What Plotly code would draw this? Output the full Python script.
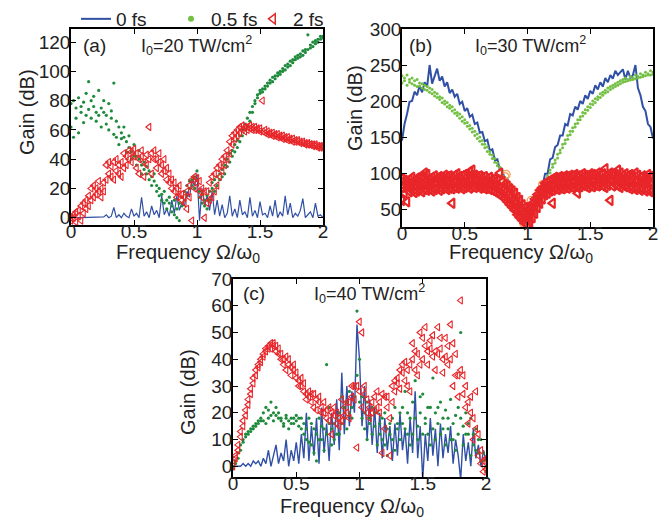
import plotly.graph_objects as go

# ---------------- data ----------------
GRID = [0.00, 0.02, 0.04, 0.06, 0.08, 0.10, 0.12, 0.14, 0.16, 0.18,
        0.20, 0.22, 0.24, 0.26, 0.28, 0.30, 0.32, 0.34, 0.36, 0.38,
        0.40, 0.42, 0.44, 0.46, 0.48, 0.50, 0.52, 0.54, 0.56, 0.58,
        0.60, 0.62, 0.64, 0.66, 0.68, 0.70, 0.72, 0.74, 0.76, 0.78,
        0.80, 0.82, 0.84, 0.86, 0.88, 0.90, 0.92, 0.94, 0.96, 0.98,
        1.00, 1.02, 1.04, 1.06, 1.08, 1.10, 1.12, 1.14, 1.16, 1.18,
        1.20, 1.22, 1.24, 1.26, 1.28, 1.30, 1.32, 1.34, 1.36, 1.38,
        1.40, 1.42, 1.44, 1.46, 1.48, 1.50, 1.52, 1.54, 1.56, 1.58,
        1.60, 1.62, 1.64, 1.66, 1.68, 1.70, 1.72, 1.74, 1.76, 1.78,
        1.80, 1.82, 1.84, 1.86, 1.88, 1.90, 1.92, 1.94, 1.96, 1.98,
        2.00]

# panel (a)  I0 = 20 TW/cm2
blue_a = [1, 0.5, 0, 0, 0, 0, 0, 0, 0, 0,
          0, 0, 0, 0.5, 2, 0, 1, 7, 0, 2,
          0, 3, 1, 0, 6, 1, 3, 0, 14, 1,
          4, 0, 8, 2, 5, 0, 15, 2, 6, 1,
          12, 3, 15, 5, 10, 8, 18, 14, 25, 22,
          30, -2, 20, 8, 15, 5, 18, 2, 12, 1,
          9, 0, 3, 15, 1, 6, 0, 12, 2, 4,
          0, 14, 1, 5, 0, 11, 2, 3, 0, 8,
          1, 12, 0, 4, 1, 15, 2, 10, 0, 3,
          1, 5, 13, 0, 2, 4, 0, 10, 1, 2,
          0]
green_a1 = [78, 80, 75, 82, 72, 79, 85, 93, 80, 76,
            72, 87, 75, 72, 70, 78, 68, 92, 66, 62,
            58, 55, 52, 48, 45, 50, 42, 40, 36, 38,
            30, 32, 28, 25, 22, 20, 16, 18, 12, 10,
            8, 12, 6, 10, 14, 18, 22, 20, 26, 28,
            32, 14, 10, 12, 15, 18, 20, 26, 28, 30,
            33, 36, 40, 44, 46, 50, 53, 56, 60, 64,
            68, 72, 76, 80, 84, 87, 88, 90, 92, 94,
            96, 97, 99, 100, 102, 104, 105, 107, 108, 110,
            111, 112, 114, 115, 125, 118, 120, 121, 122, 124,
            124]
green_a2 = [62, 55, 68, 58, 76, 65, 70, 74, 68, 83,
            66, 70, 62, 80, 64, 60, 73, 57, 55, 50,
            54, 62, 45, 56, 40, 42, 36, 46, 30, 33,
            35, 26, 22, 30, 18, 15, 12, 10, 6, 14,
            4, 2, 0, -2, 8, 12, 15, 25, 22, 20,
            26, 18, 16, 8, 6, 12, 24, 18, 22, 26,
            28, 30, 35, 38, 42, 45, 48, 52, 56, 60,
            63, 66, 72, 78, 82, 85, 86, 88, 90, 92,
            93, 95, 97, 98, 100, 101, 103, 104, 106, 108,
            109, 110, 111, 113, 115, 116, 117, 119, 120, 122,
            123]
red_a1 = [0, 2, 4, 1, 8, 10, 6, 15, 20, 22,
          16, 18, 20, 24, 26, 30, 35, 38, 40, 36,
          38, 44, 42, 46, 45, 47, 44, 40, 42, 38,
          43, 62, 44, 46, 40, 44, 36, 40, 34, 30,
          26, 24, 20, 22, 16, 14, 18, 22, 26, 28,
          27, 25, 20, 18, 18, 24, 28, 30, 34, 36,
          40, 42, 46, 52, 56, 58, 60, 62, 63, 62,
          62, 63, 62, 62, 61, 61, 80, 60, 59, 58,
          58, 57, 57, 56, 56, 55, 55, 54, 54, 53,
          53, 52, 52, 51, 51, 50, 50, 50, 49, 49,
          49]
red_a2 = [-2, 0, -3, 5, -2, 3, 12, 8, 12, 14,
          20, 25, 14, 18, 36, 38, 28, 26, 32, 30,
          28, 34, 36, 40, 38, 42, 34, 30, 46, 28,
          36, 40, 30, 40, 34, 38, 30, 32, 26, 24,
          20, 18, 14, 16, 12, 10, 6, 14, -2, 20,
          24, 18, 14, 0, 10, 12, 14, 18, 22, 28,
          32, 36, 40, 44, 50, 54, 56, 58, 60, 59,
          60, 61, 60, 60, 60, 59, 59, 58, 57, 57,
          56, 56, 55, 55, 54, 54, 53, 53, 52, 52,
          52, 51, 51, 50, 50, 50, 49, 49, 48, 48,
          48]

# panel (b)  I0 = 30 TW/cm2
blue_b = [145, 168, 182, 199, 200, 213, 208, 221, 212, 226,
          220, 250, 224, 236, 245, 228, 234, 220, 226, 211,
          216, 206, 210, 196, 199, 186, 190, 178, 181, 168,
          170, 156, 157, 144, 146, 131, 133, 118, 119, 104,
          104, 89, 92, 84, 76, 62, 62, 49, 49, 36,
          35, 46, 48, 64, 63, 76, 82, 99, 99, 119,
          121, 136, 139, 152, 152, 168, 166, 182, 180, 192,
          188, 200, 196, 208, 203, 214, 210, 222, 216, 226,
          220, 232, 226, 236, 231, 242, 236, 240, 244, 230,
          242, 232, 236, 250, 218, 208, 192, 186, 168, 164,
          148]
green_b1 = [235, 232, 236, 230, 232, 228, 230, 225, 224, 222,
            220, 218, 216, 212, 210, 206, 204, 200, 198, 194,
            192, 188, 184, 182, 178, 174, 170, 166, 162, 158,
            154, 150, 145, 140, 136, 130, 125, 120, 114, 108,
            100, 94, 88, 82, 76, 68, 60, 52, 45, 38,
            32, 40, 48, 56, 64, 72, 80, 88, 96, 104,
            112, 118, 126, 132, 140, 146, 152, 158, 163, 168,
            174, 178, 184, 188, 192, 196, 200, 203, 206, 210,
            212, 215, 218, 220, 222, 224, 226, 228, 230, 232,
            230, 234, 232, 236, 234, 238, 236, 240, 238, 242,
            240]
green_b2 = [225, 228, 222, 226, 224, 222, 220, 221, 218, 216,
            215, 212, 210, 207, 205, 202, 198, 196, 192, 190,
            186, 183, 180, 176, 172, 169, 165, 161, 157, 152,
            148, 144, 140, 135, 130, 126, 120, 115, 110, 104,
            96, 90, 84, 78, 72, 64, 56, 48, 42, 35,
            30, 36, 44, 52, 60, 68, 76, 84, 92, 100,
            108, 114, 121, 128, 135, 141, 147, 153, 158, 164,
            169, 174, 179, 183, 187, 191, 195, 198, 202, 205,
            208, 211, 213, 216, 218, 220, 222, 224, 226, 227,
            228, 229, 230, 231, 232, 233, 234, 235, 236, 236,
            237]
red_b1 = [92, 90, 88, 91, 94, 90, 93, 92, 95, 93,
          98, 92, 94, 96, 93, 95, 94, 97, 95, 96,
          94, 97, 99, 95, 96, 98, 95, 102, 96, 97,
          95, 96, 94, 95, 92, 94, 91, 92, 90, 100,
          88, 84, 82, 78, 75, 72, 66, 62, 56, 52,
          48, 52, 58, 64, 70, 76, 80, 86, 88, 90,
          92, 94, 93, 95, 94, 96, 95, 97, 96, 98,
          96, 97, 99, 97, 96, 99, 98, 97, 100, 98,
          99, 106, 98, 100, 99, 98, 104, 100, 97, 99,
          96, 98, 95, 100, 97, 94, 96, 93, 98, 95,
          96]
red_b2 = [62, 72, 60, 74, 76, 73, 75, 78, 74, 77,
          76, 78, 75, 77, 79, 76, 78, 80, 77, 79,
          78, 80, 79, 81, 78, 80, 82, 79, 81, 80,
          82, 79, 80, 78, 79, 77, 76, 74, 72, 70,
          68, 64, 60, 56, 52, 48, 42, 38, 34, 30,
          28, 32, 38, 44, 52, 58, 64, 70, 72, 75,
          76, 78, 77, 79, 78, 80, 79, 81, 80, 82,
          80, 81, 83, 82, 80, 82, 81, 83, 82, 84,
          82, 80, 83, 62, 82, 84, 82, 80, 83, 81,
          80, 78, 80, 77, 79, 76, 78, 75, 77, 74,
          76]
red_b3 = [80, 82, 84, 81, 83, 82, 86, 84, 85, 100,
          84, 86, 85, 87, 86, 88, 85, 87, 86, 88,
          58, 87, 89, 86, 88, 87, 89, 88, 104, 88,
          89, 87, 88, 86, 87, 85, 84, 82, 80, 78,
          76, 73, 70, 66, 62, 58, 54, 48, 44, 40,
          36, 42, 48, 54, 60, 66, 72, 76, 80, 83,
          58, 85, 86, 85, 87, 86, 88, 87, 89, 88,
          72, 89, 90, 88, 90, 89, 91, 90, 92, 90,
          91, 90, 92, 91, 90, 92, 91, 90, 89, 91,
          89, 88, 90, 87, 89, 86, 88, 86, 87, 85,
          86]
orange_b_x = [0.78, 0.80, 0.82, 0.84, 0.86, 0.88, 0.90, 0.92, 0.94, 0.96,
              0.98, 1.00, 1.02, 1.04, 1.06, 1.08, 1.10, 1.12, 0.83, 0.97, 1.03]
orange_b_y = [92, 88, 95, 84, 80, 74, 66, 60, 52, 44,
              36, 30, 34, 50, 58, 62, 76, 84, 98, 30, 62]

# panel (c)  I0 = 40 TW/cm2
blue_c = [0, 0, 0, 0, 1, 0, 1, 0, 2, 1,
          2, 0, 3, 1, 6, 0, 4, 8, 1, 5,
          2, 10, 0, 6, 2, 9, 1, 12, 3, 20,
          2, 15, 4, 18, 1, 22, 5, 16, 2, 20,
          8, 25, 6, 35, 12, 30, 15, 28, 20, 53,
          40, 15, 30, 10, 25, 8, 22, 5, 20, 3,
          18, 6, 15, 2, 16, 4, 20, 6, 14, 1,
          18, 5, 28, 3, 15, -5, 12, 2, 18, 4,
          14, 0, 16, 3, 12, 5, 15, 1, 10, 4,
          -5, 12, 2, 9, 0, 14, 3, 8, 0, 6,
          2]
green_c1 = [0, 2, 5, 8, 10, 12, 13, 14, 15, 16,
            17, 18, 17, 22, 18, 19, 20, 19, 18, 17,
            16, 18, 17, 16, 18, 17, 15, 18, 12, 14,
            9, 16, 5, 12, 18, 10, 14, 38, 22, 8,
            16, 12, 20, 26, 18, 24, 28, 22, 30, 58,
            40, 26, 20, 24, 18, 22, 15, 20, 12, 18,
            8, 14, 16, 10, 22, 14, 20, 16, 28, 12,
            18, 24, 32, 15, 20, 27, 18, 12, 22, 33,
            20, 16, 24, 14, 21, 18, 25, 10, 19, 22,
            50, 15, 20, 12, 18, 8, 14, 5, 10, 2,
            0]
green_c2 = [-1, 1, 3, 6, 9, 11, 12, 13, 14, 15,
            16, 17, 20, 16, 21, 24, 17, 22, 20, 18,
            15, 19, 14, 18, 16, 19, 18, 14, 16, 10,
            18, 8, 14, 2, 10, 15, 6, 12, 16, 14,
            10, 18, 12, 16, 22, 14, 20, 18, 26, 34,
            24, 18, 14, 10, 16, 12, 20, 8, 16, 10,
            20, 4, 12, 18, 6, 16, 10, 22, 14, 20,
            8, 12, 18, 10, 26, 12, 16, 22, 8, 14,
            10, 22, 12, 18, 8, 14, 10, 16, 6, 12,
            18, 8, 12, 16, 4, 12, 6, 10, 2, 5,
            -2]
red_c1 = [0, 4, 8, 13, 17, 21, 25, 29, 33, 36,
          38, 40, 42, 43, 45, 46, 46, 45, 44, 42,
          40, 41, 38, 37, 36, 33, 32, 30, 28, 27,
          26, 24, 27, 25, 24, 22, 20, 18, 22, 20,
          19, 16, 18, 25, 22, 20, 24, 30, 30, 7,
          54, 50, 30, 25, 22, 20, 26, 28, 24, 27,
          26, 22, 18, 30, 32, 31, 36, 35, 39, 30,
          38, 46, 43, 34, 50, 48, 45, 43, 47, 41,
          43, 52, 44, 40, 48, 38, 53, 46, 34, 26,
          62, 34, 30, 24, 20, 18, 28, 12, 6, 2,
          -1]
red_c2 = [1, 3, 6, 11, 15, 19, 23, 27, 31, 34,
          37, 39, 41, 44, 44, 44, 45, 43, 42, 40,
          38, 36, 40, 34, 38, 35, 30, 33, 31, 25,
          28, 27, 22, 21, 26, 20, 24, 21, 17, 12,
          22, 20, 15, 17, 19, 24, 18, 26, 25, 30,
          28, 22, 27, 20, 18, 24, 21, 22, 20, 5,
          14, 26, 4, 24, 28, 33, 29, 38, 32, 36,
          28, 40, 36, 42, 38, 40, 52, 38, 44, 49,
          36, 42, 48, 35, 41, 45, 40, 30, 42, 34,
          36, 27, 22, 16, 26, 10, 14, 4, 1, -2,
          3]

X_TICKS = [0, 0.5, 1, 1.5, 2]
X_TICKTEXT = ["0", "0.5", "1", "1.5", "2"]
Y_TICKS_A = [0, 20, 40, 60, 80, 100, 120]
Y_TICKS_B = [50, 100, 150, 200, 250, 300]
Y_TICKS_C = [0, 10, 20, 30, 40, 50, 60, 70]
SERIES_NAMES = ["0 fs", "0.5 fs", "2 fs"]
PANEL_LABELS = ["(a)", "(b)", "(c)"]
INTENSITIES = ["20", "30", "40"]

# ---------------- styling ----------------
W, H = 671, 519
BLUE = "#3050a6"
DKGREEN = "#1e8a3c"
LTGREEN = "#74c044"
RED = "#e8262a"
ORANGE = "#f5a05a"
FONT = "Liberation Sans, Arial, sans-serif"


def px(x):
    return x / W


def py(y):
    return 1 - y / H


fig = go.Figure()


def add_panel(n, blue, blue_w, greens, reds, green_col, green_size, red_size,
              red_lw, oranges=None):
    xa = "x" if n == 1 else f"x{n}"
    ya = "y" if n == 1 else f"y{n}"
    fig.add_trace(go.Scatter(x=GRID, y=blue, mode="lines", xaxis=xa, yaxis=ya,
                             line=dict(color=BLUE, width=blue_w), showlegend=False))
    for g in greens:
        fig.add_trace(go.Scatter(x=GRID, y=g, mode="markers", xaxis=xa, yaxis=ya,
                                 marker=dict(color=green_col, size=green_size),
                                 showlegend=False))
    if oranges is not None:
        fig.add_trace(go.Scatter(x=oranges[0], y=oranges[1], mode="markers",
                                 xaxis=xa, yaxis=ya,
                                 marker=dict(symbol="circle-open", color=ORANGE,
                                             size=8, line=dict(width=1.2)),
                                 showlegend=False))
    for r in reds:
        fig.add_trace(go.Scatter(x=GRID, y=r, mode="markers", xaxis=xa, yaxis=ya,
                                 marker=dict(symbol="triangle-left-open", color=RED,
                                             size=red_size, line=dict(width=red_lw)),
                                 showlegend=False))


add_panel(1, blue_a, 1.2, [green_a1, green_a2], [red_a1, red_a2], DKGREEN, 3.2, 6.5, 1.1)
add_panel(2, blue_b, 2.0, [green_b1, green_b2], [red_b1, red_b2, red_b3], LTGREEN, 3,
          8.5, 2.2, oranges=(orange_b_x, orange_b_y))
add_panel(3, blue_c, 1.4, [green_c1, green_c2], [red_c1, red_c2], DKGREEN, 3.2, 6.5, 1.1)

# legend-only entries, each in its own legend box so they can be placed freely
fig.add_trace(go.Scatter(x=[None], y=[None], mode="lines", name=SERIES_NAMES[0],
                         line=dict(color=BLUE, width=2), legend="legend"))
fig.add_trace(go.Scatter(x=[None], y=[None], mode="markers", name=SERIES_NAMES[1],
                         marker=dict(color=LTGREEN, size=6), legend="legend2"))
fig.add_trace(go.Scatter(x=[None], y=[None], mode="markers", name=SERIES_NAMES[2],
                         marker=dict(symbol="triangle-left-open", color=RED, size=9,
                                     line=dict(width=1.5)), legend="legend3"))


def axis(domain, rng, tickvals, ticktext, anchor, standoff):
    return dict(domain=domain, range=rng, tickvals=tickvals, ticktext=ticktext,
                ticks="inside", ticklen=5, tickwidth=1, tickcolor="black",
                showline=True, linecolor="black", linewidth=1.5, mirror="ticks",
                showgrid=False, zeroline=False, anchor=anchor, automargin=False,
                ticklabelstandoff=standoff,
                tickfont=dict(size=19, color="#222", family=FONT))


panels = {
    1: dict(x=(71, 323), y=(29, 225), yr=[-5, 129], yt=Y_TICKS_A),
    2: dict(x=(402, 653), y=(29, 227), yr=[25, 300], yt=Y_TICKS_B),
    3: dict(x=(233, 486), y=(279, 477), yr=[-4, 70], yt=Y_TICKS_C),
}
layout_axes = {}
for n, p in panels.items():
    sx = "" if n == 1 else str(n)
    layout_axes[f"xaxis{sx}"] = axis([px(p["x"][0]), px(p["x"][1])], [0, 2],
                                     X_TICKS, X_TICKTEXT, f"y{sx}", -12)
    layout_axes[f"yaxis{sx}"] = axis([py(p["y"][1]), py(p["y"][0])], p["yr"],
                                     p["yt"], [str(v) for v in p["yt"]], f"x{sx}", -5)

annotations = []


def ann(text, x, y, size, xanchor="center", angle=0):
    annotations.append(dict(text=text, x=px(x), y=py(y), xref="paper", yref="paper",
                            showarrow=False, xanchor=xanchor, yanchor="middle",
                            textangle=angle,
                            font=dict(size=size, color="#222", family=FONT)))


# panel labels and intensities
label_pos = [(81, 45, 196, 45), (407, 45, 530, 45), (241, 293, 370, 293)]
for lab, inten, (lx, ly, ix, iy) in zip(PANEL_LABELS, INTENSITIES, label_pos):
    ann(lab, lx, ly, 19, xanchor="left")
    ann(f"I<sub>0</sub>={inten} TW/cm<sup>2</sup>", ix, iy, 18)

# axis titles
for (x, y) in [(188, 253), (521, 253), (352, 507)]:
    ann("Frequency Ω/ω<sub>0</sub>", x, y, 20)
for (x, y) in [(27, 112), (355, 108), (188, 392)]:
    ann("Gain (dB)", x, y, 20, angle=-90)


def leg(x):
    return dict(orientation="h", x=px(x), y=py(19), xanchor="left", yanchor="middle",
                font=dict(size=19, family=FONT, color="#222"),
                bgcolor="rgba(0,0,0,0)", itemwidth=30)


fig.update_layout(
    width=W, height=H, margin=dict(l=0, r=0, t=0, b=0),
    paper_bgcolor="white", plot_bgcolor="white",
    font=dict(family=FONT, color="#222"),
    showlegend=True,
    legend=leg(76), legend2=leg(171), legend3=leg(253),
    annotations=annotations,
    **layout_axes,
)

fig.write_html("out.html", config={"displayModeBar": False},
               post_script="document.body.style.margin='0';document.body.style.padding='0';")
